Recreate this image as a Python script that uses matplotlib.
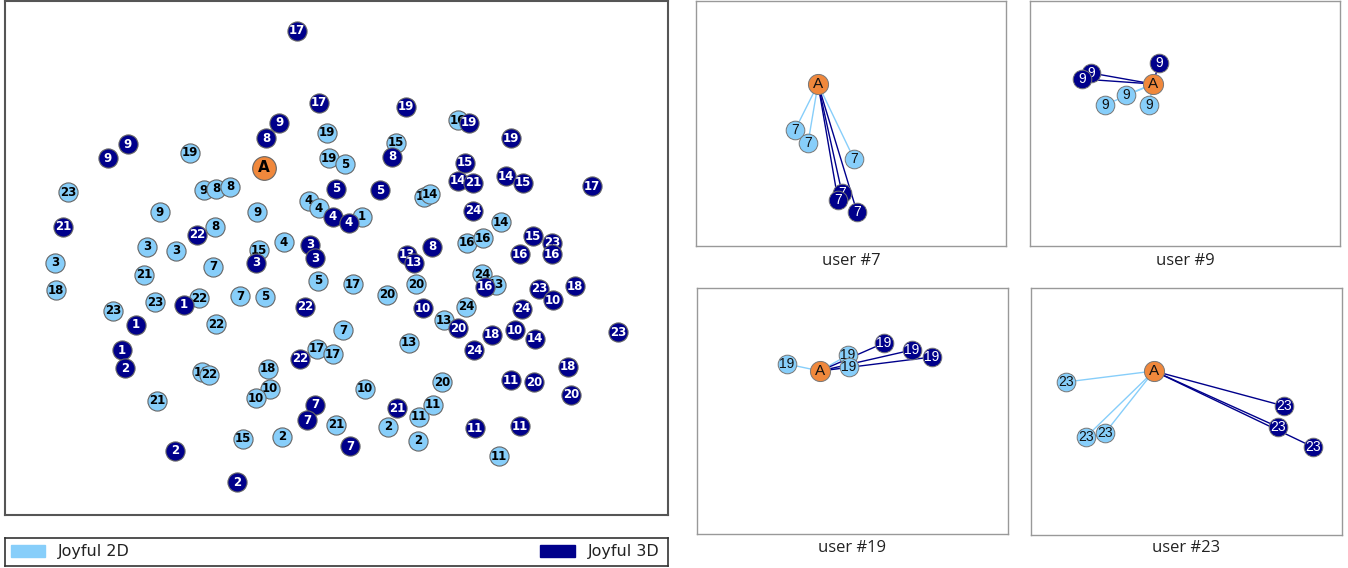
import matplotlib
matplotlib.use('Agg')
import matplotlib.pyplot as plt
from matplotlib.patches import Rectangle
import numpy as np

W, H = 1348, 568

light = '#87CEFA'
dark = '#00008B'
orange = '#F0883C'

# main embedding (pixel-like layout coords, y down)
anchor_xy = (264, 168)

pts_2d_x = [68, 190, 204, 216, 230, 160, 215, 257, 309, 319, 327, 329, 345, 396, 458, 424, 430,
            362, 147, 176, 259, 284, 213, 55, 144, 56, 155, 199, 240, 265, 113, 216, 318, 353,
            343, 317, 333, 268, 202, 209, 270, 256, 157, 243, 282, 336, 388, 418, 419, 433,
            442, 365, 409, 387, 416, 444, 466, 482, 496, 467, 483, 501, 499]
pts_2d_y = [192, 153, 190, 189, 187, 212, 227, 212, 201, 208, 133, 158, 164, 143, 120, 197, 194,
            217, 247, 251, 250, 242, 267, 263, 275, 290, 302, 298, 296, 297, 311, 324, 281, 284,
            330, 349, 354, 369, 372, 375, 389, 398, 401, 439, 437, 425, 427, 441, 417, 405,
            382, 389, 343, 295, 284, 320, 307, 274, 285, 243, 238, 222, 456]
pts_2d_lbl = ['23', '19', '9', '8', '8', '9', '8', '9', '4', '4', '19', '19', '5', '15', '16', '14', '14',
              '1', '3', '3', '15', '4', '7', '3', '21', '18', '23', '22', '7', '5', '23', '22', '5', '17',
              '7', '17', '17', '18', '18', '22', '10', '10', '21', '15', '2', '21', '2', '2', '11', '11',
              '20', '10', '13', '20', '20', '13', '24', '24', '13', '16', '16', '14', '11']

pts_3d_x = [297, 319, 279, 266, 128, 108, 63, 197, 336, 380, 333, 349, 310, 315, 256, 406, 469,
            511, 392, 465, 458, 473, 506, 523, 592, 473, 432, 407, 414, 533, 552, 552, 520, 485,
            539, 575, 553, 423, 522, 458, 492, 515, 535, 474, 618, 184, 136, 122, 125, 305, 300,
            315, 307, 350, 397, 511, 534, 568, 571, 475, 520, 175, 237]
pts_3d_y = [31, 103, 123, 138, 144, 158, 227, 235, 189, 190, 217, 223, 245, 258, 263, 107, 123,
            138, 157, 163, 181, 183, 176, 183, 186, 211, 247, 255, 263, 236, 243, 254, 254, 287,
            289, 286, 300, 308, 309, 328, 335, 330, 339, 350, 332, 305, 325, 350, 368, 307, 359,
            405, 420, 446, 408, 380, 382, 367, 395, 428, 426, 451, 482]
pts_3d_lbl = ['17', '17', '9', '8', '9', '9', '21', '22', '5', '5', '4', '4', '3', '3', '3', '19', '19',
              '19', '8', '15', '14', '21', '14', '15', '17', '24', '8', '13', '13', '15', '23', '16', '16', '16',
              '23', '18', '10', '10', '24', '20', '18', '10', '14', '24', '23', '1', '1', '1', '2', '22', '22',
              '7', '7', '7', '21', '11', '20', '18', '20', '11', '11', '2', '2']

# per-user neighbourhood views (coords relative to each panel box)
users = ['user #7', 'user #9', 'user #19', 'user #23']
user_tags = ['7', '9', '19', '23']
user_anchor = [(122, 83), (123, 83), (123, 83), (123, 83)]
user_2d = [[(99, 129), (112, 142), (158, 158)],
           [(96, 94), (75, 104), (119, 104)],
           [(90, 76), (151, 67), (152, 79)],
           [(35, 94), (55, 149), (74, 145)]]
user_3d = [[(146, 192), (142, 199), (161, 211)],
           [(129, 62), (61, 72), (52, 78)],
           [(187, 55), (215, 62), (235, 69)],
           [(253, 118), (247, 139), (282, 159)]]

fig = plt.figure(figsize=(W / 100, H / 100), dpi=100)


def px_axes(x0, y0, x1, y1):
    return fig.add_axes([x0 / W, 1 - y1 / H, (x1 - x0) / W, (y1 - y0) / H])


# ---- main panel
ax = px_axes(5, 1, 668, 515)
ax.set_xlim(5, 668)
ax.set_ylim(515, 1)
ax.set_xticks([])
ax.set_yticks([])
for s in ax.spines.values():
    s.set_color('#555555')
    s.set_linewidth(1.5)

z = 2
S = 190
for x, y, t in zip(pts_2d_x, pts_2d_y, pts_2d_lbl):
    ax.scatter(x, y, s=S, color=light, edgecolors='#666666', linewidths=0.8, zorder=z)
    ax.text(x, y, t, ha='center', va='center', fontsize=8.5, fontweight='bold',
            color='black', zorder=z + 1)
    z += 2
for x, y, t in zip(pts_3d_x, pts_3d_y, pts_3d_lbl):
    ax.scatter(x, y, s=S, color=dark, edgecolors='#666666', linewidths=0.8, zorder=z)
    ax.text(x, y, t, ha='center', va='center', fontsize=8.5, fontweight='bold',
            color='white', zorder=z + 1)
    z += 2
ax.scatter(*anchor_xy, s=290, color=orange, edgecolors='#666666', linewidths=0.8, zorder=z)
ax.text(*anchor_xy, 'A', ha='center', va='center', fontsize=11, fontweight='bold',
        color='black', zorder=z + 1)

# ---- legend strip
lax = px_axes(5, 538, 668, 566)
lax.set_xlim(0, 663)
lax.set_ylim(28, 0)
lax.set_xticks([])
lax.set_yticks([])
for s in lax.spines.values():
    s.set_color('#333333')
    s.set_linewidth(1.2)
lax.add_patch(Rectangle((6, 7), 34, 12, color=light))
lax.text(53, 13.5, 'Joyful 2D', ha='left', va='center', fontsize=11.5, color='#222222')
lax.add_patch(Rectangle((535, 7), 35, 12, color=dark))
lax.text(583, 13.5, 'Joyful 3D', ha='left', va='center', fontsize=11.5, color='#222222')

# ---- user panels
boxes = [(696, 1, 1006, 246), (1030, 1, 1340, 246), (697, 288, 1008, 534), (1031, 288, 1342, 535)]
title_y = [261, 261, 548, 548]
sub_font = ['Liberation Sans', 'DejaVu Sans']

for i, (x0, y0, x1, y1) in enumerate(boxes):
    sax = px_axes(x0, y0, x1, y1)
    sax.set_xlim(0, x1 - x0)
    sax.set_ylim(y1 - y0, 0)
    sax.set_xticks([])
    sax.set_yticks([])
    for s in sax.spines.values():
        s.set_color('#999999')
        s.set_linewidth(1.0)
    axx, axy = user_anchor[i]
    for (px, py) in user_2d[i]:
        sax.plot([axx, px], [axy, py], color=light, lw=1.0, zorder=1)
    for (px, py) in user_3d[i]:
        sax.plot([axx, px], [axy, py], color=dark, lw=1.0, zorder=1)
    zz = 3
    for (px, py) in user_2d[i]:
        sax.scatter(px, py, s=180, color=light, edgecolors='#777777', linewidths=0.7, zorder=zz)
        sax.text(px, py, user_tags[i], ha='center', va='center', fontsize=10,
                 family=sub_font, color='#111111', zorder=zz + 1)
        zz += 2
    for (px, py) in user_3d[i]:
        sax.scatter(px, py, s=180, color=dark, edgecolors='#777777', linewidths=0.7, zorder=zz)
        sax.text(px, py, user_tags[i], ha='center', va='center', fontsize=10,
                 family=sub_font, color='white', zorder=zz + 1)
        zz += 2
    sax.scatter(axx, axy, s=210, color=orange, edgecolors='#777777', linewidths=0.7, zorder=zz)
    sax.text(axx, axy, 'A', ha='center', va='center', fontsize=11,
             family=sub_font, color='#111111', zorder=zz + 1)
    fig.text((x0 + x1) / 2 / W, 1 - title_y[i] / H, users[i], ha='center', va='center',
             fontsize=12, family=['Open Sans', 'DejaVu Sans'], color='#222222')

fig.savefig('out.png', dpi=100)
